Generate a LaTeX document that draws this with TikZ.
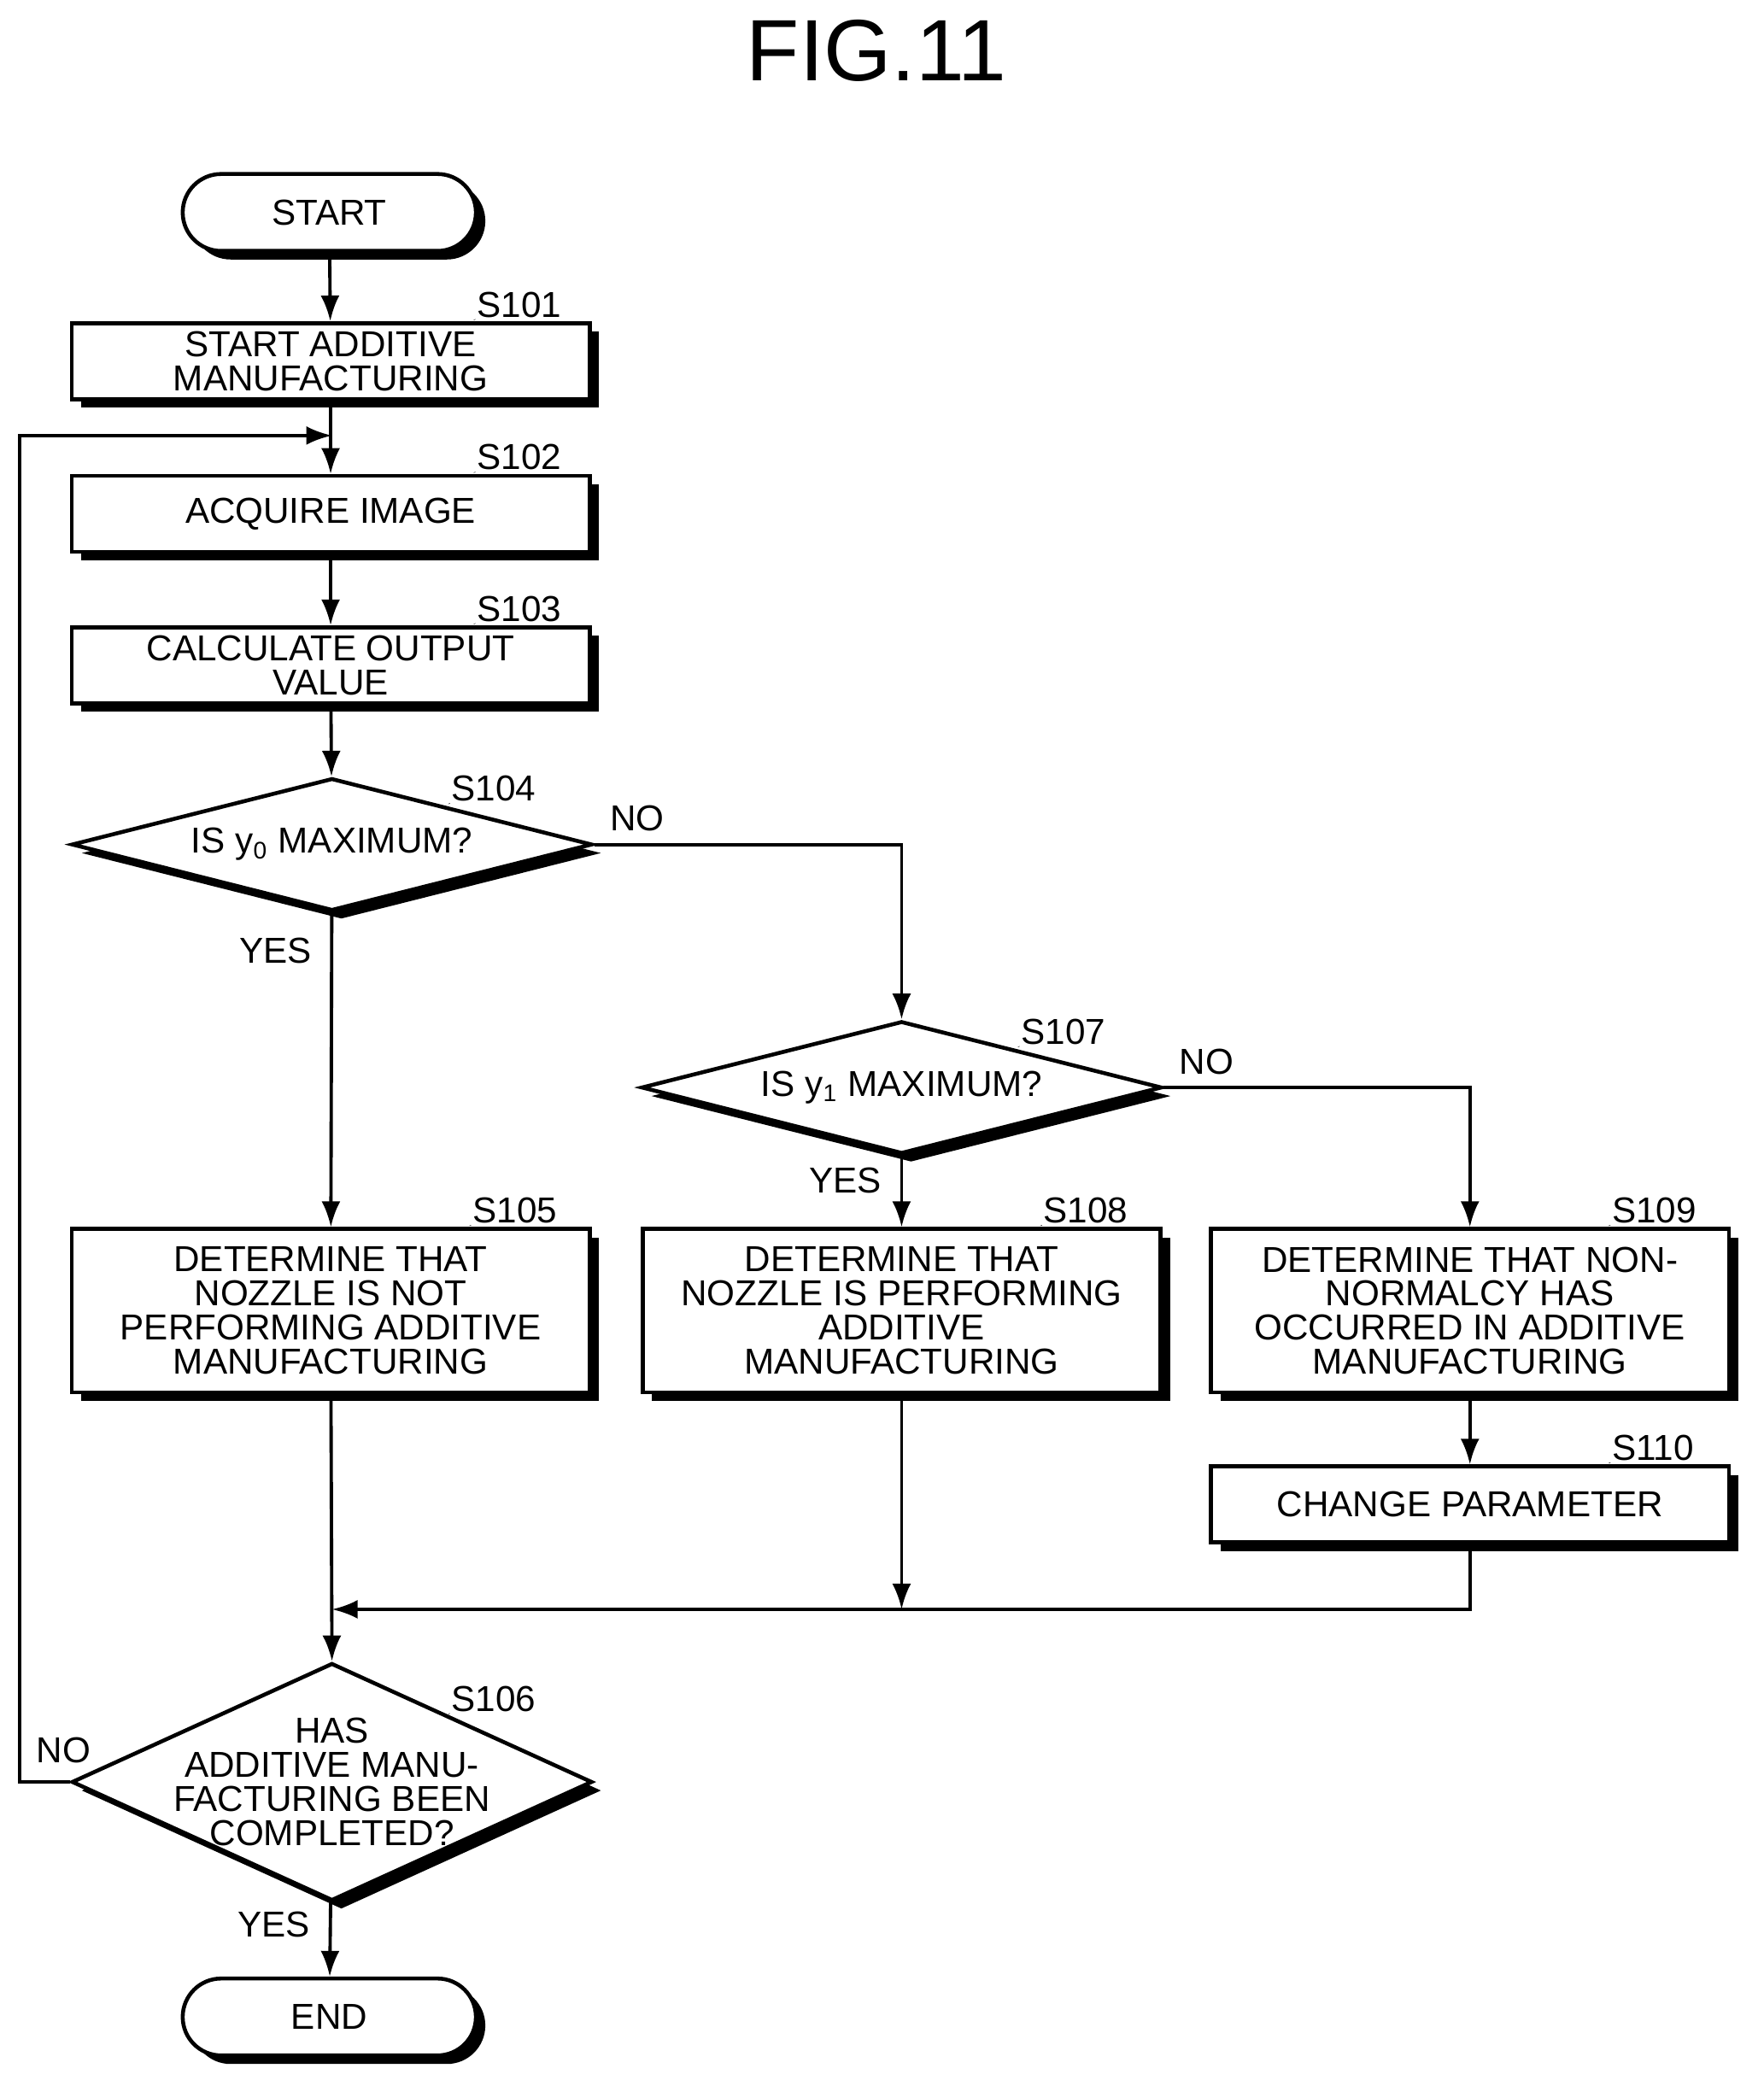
\documentclass[tikz,border=0pt]{standalone}
\usepackage{fontspec}
\setmainfont{Liberation Sans}
\usetikzlibrary{calc}
\usetikzlibrary{positioning}
\usetikzlibrary{arrows.meta}
\usetikzlibrary{shapes.geometric}
\usetikzlibrary{shadows}

\newcommand{\steplabel}[2]{%
    \draw [sq] (#1) .. controls +(-0.12,0.1) and +(0.02,-0.12) .. ++(0.1,0.26)
        node [anchor=south west,inner sep=0.5pt,font=\fontsize{12}{12}\selectfont] {#2};%
}

\begin{document}
\begin{tikzpicture}[
    x=0.01554cm, y=-0.01554cm,
    font=\fontsize{12}{11.3}\selectfont,
    sh/.style={
        drop shadow={shadow xshift=0.11cm,shadow yshift=-0.1cm,fill=black,opacity=1}
    },
    b/.style={
        sh, draw, fill=white, line width=1.3pt, align=center,
        minimum width=6.06cm, minimum height=0.89cm, inner sep=0pt
    },
    t/.style={
        b, minimum height=1.91cm
    },
    term/.style={
        sh, draw, fill=white, line width=1.3pt, rounded corners=0.45cm,
        minimum width=3.43cm, minimum height=0.9cm
    },
    dec/.style={
        sh, draw, fill=white, line width=1.3pt, diamond, inner sep=0pt,
        minimum width=6.09cm, minimum height=1.55cm
    },
    l/.style={
        line width=1.1pt, -{Latex[length=0.3cm,width=0.22cm]}
    },
    a/.style={
        line width=1.1pt
    },
    sq/.style={
        line width=0.6pt
    }
]
    \useasboundingbox (0,0) rectangle (1328,1571);

    \node (title) at (660,38) {\fontsize{29}{29}\selectfont FIG.11};

    \node [term] (start) at (248,160) {START};
    \node [b] (s101) at (249,272) {START ADDITIVE\\MANUFACTURING};
    \node [b] (s102) at (249,387) {ACQUIRE IMAGE};
    \node [b] (s103) at (249,501) {CALCULATE OUTPUT\\VALUE};
    \node [dec] (s104) at (250,636) {};
    \node at (s104) {IS y\textsubscript{0} MAXIMUM?};
    \node [dec] (s107) at (679,819) {};
    \node at (s107) {IS y\textsubscript{1} MAXIMUM?};
    \node [t] (s105) at (249,987) {DETERMINE THAT\\NOZZLE IS NOT\\PERFORMING ADDITIVE\\MANUFACTURING};
    \node [t] (s108) at (679,987) {DETERMINE THAT\\NOZZLE IS PERFORMING\\ADDITIVE\\MANUFACTURING};
    \node [t] (s109) at (1107,987) {DETERMINE THAT NON-\\NORMALCY HAS\\OCCURRED IN ADDITIVE\\MANUFACTURING};
    \node [b] (s110) at (1107,1133) {CHANGE PARAMETER};
    \node [dec, minimum height=2.78cm] (s106) at (250,1342) {};
    \node [align=center] at (s106) {HAS\\ADDITIVE MANU-\\FACTURING BEEN\\COMPLETED?};
    \node [term] (end) at (248,1519) {END};

    \coordinate (j1) at (250,1212);
    \coordinate (j2) at (679,1212);
    \coordinate (back) at (250,328);
    \coordinate (left) at (15,1342);

    % step labels
    \steplabel{$(s101.north east)+(-1.37cm,0.02cm)$}{S101}
    \steplabel{$(s102.north east)+(-1.37cm,0.02cm)$}{S102}
    \steplabel{$(s103.north east)+(-1.37cm,0.02cm)$}{S103}
    \steplabel{$(s104)+(1.37cm,0.48cm)$}{S104}
    \steplabel{$(s107)+(1.37cm,0.48cm)$}{S107}
    \steplabel{$(s105.north east)+(-1.42cm,0.02cm)$}{S105}
    \steplabel{$(s108.north east)+(-1.42cm,0.02cm)$}{S108}
    \steplabel{$(s109.north east)+(-1.42cm,0.02cm)$}{S109}
    \steplabel{$(s110.north east)+(-1.42cm,0.02cm)$}{S110}
    \steplabel{$(s106)+(1.37cm,0.8cm)$}{S106}

    \draw (start) -- (s101) [l];
    \draw (s101) -- (s102) [l];
    \draw (s102) -- (s103) [l];
    \draw (s103) -- (s104) [l];
    \draw (s104) -- (s105) [l] node [pos=0.12,left=0.1cm] {YES};
    \draw (s104.east) -| (s107.north) [l] node [pos=0.07,above=0.02cm] {NO};
    \draw (s107) -- (s108) [l] node [pos=0.35,left=0.1cm] {YES};
    \draw (s107.east) -| (s109.north) [l] node [pos=0.07,above=0.02cm] {NO};
    \draw (s109) -- (s110) [l];
    \draw (s110.south) |- (j1) [l];
    \draw (s108) -- (j2) [l];
    \draw (s105) -- (s106.north) [l];
    \draw (s106) -- (end) [l] node [pos=0.3,left=0.1cm] {YES};
    \draw (s106.west) -- (left) |- (back) [l];
    \node (no3) at (48,1318) {NO};
\end{tikzpicture}
\end{document}
